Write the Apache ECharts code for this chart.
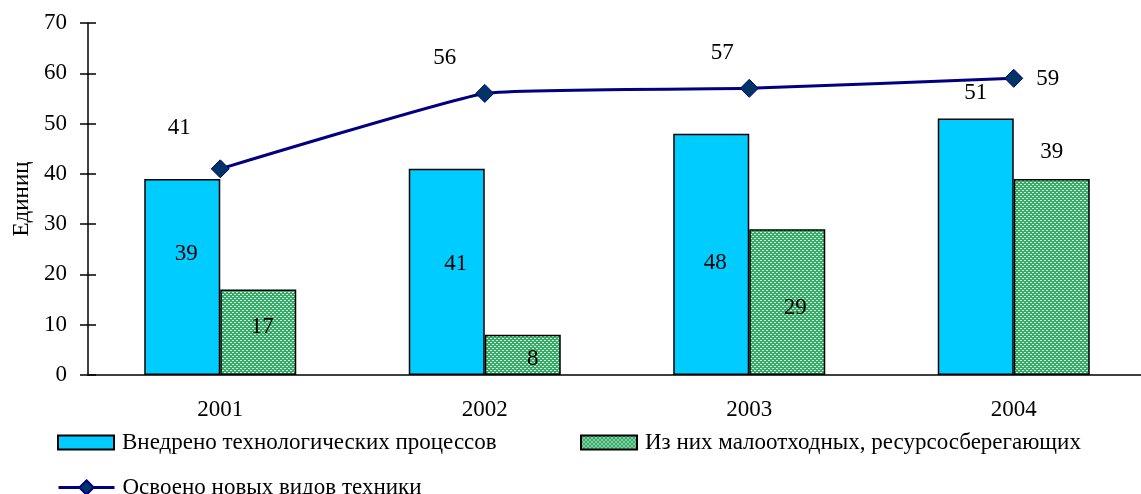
<!DOCTYPE html>
<html lang="ru">
<head>
    <meta charset="UTF-8">
    <title>Единиц</title>
    <script src="https://cdn.jsdelivr.net/npm/echarts@6/dist/echarts.min.js"></script>
</head>
<body style="margin:0">
    <div id="app" style="width:1141px;height:494px;"></div>
    <script>
        // data
        var years = ['2001', '2002', '2003', '2004'];
        var processes = [39, 41, 48, 51];      // Внедрено технологических процессов
        var lowWaste = [17, 8, 29, 39];        // Из них малоотходных, ресурсосберегающих
        var newTech = [41, 56, 57, 59];        // Освоено новых видов техники

        var font = 'Liberation Serif';
        var fs = 23;

        // green dotted fill like in excel
        function makePattern() {
            var c = document.createElement('canvas');
            c.width = 4; c.height = 4;
            var ctx = c.getContext('2d');
            ctx.fillStyle = '#37a968';
            ctx.fillRect(0, 0, 4, 4);
            ctx.fillStyle = '#d2f5dc';
            ctx.fillRect(0, 0, 2, 1);
            ctx.fillRect(2, 2, 2, 1);
            return c;
        }
        var greenFill = { image: makePattern(), repeat: 'repeat' };

        // label tweaks per point (Excel puts them a bit odd)
        var blueLbl = [
            { position: 'inside', offset: [4, -23] },
            { position: 'inside', offset: [9, -8] },
            { position: 'inside', offset: [4, 9] },
            { position: 'top', offset: [0, -9] }
        ];
        var greenLbl = [
            { position: 'inside', offset: [4, -5] },
            { position: 'inside', offset: [10, 4] },
            { position: 'inside', offset: [8, 6] },
            { position: 'top', offset: [0, -10] }
        ];
        var lineLbl = [
            { position: 'top', offset: [-41, -15] },
            { position: 'top', offset: [-40, -9] },
            { position: 'top', offset: [-27, -9] },
            { position: 'right', offset: [8, 1] }
        ];

        function withLabels(vals, lbls) {
            return vals.map(function (v, i) {
                return { value: v, label: lbls[i] };
            });
        }

        var legendText = { fontFamily: font, fontSize: fs, color: '#000', padding: [0, 0, 0, 3] };

        var myChart = echarts.init(document.getElementById('app'));
        var option = {
            animation: false,
            backgroundColor: '#fff',
            textStyle: { fontFamily: font, color: '#000' },
            grid: { left: 88, width: 1058, top: 23, height: 352, outerBoundsMode: 'none' },
            legend: [{
                left: 57, top: 431, padding: 0,
                icon: 'rect', itemWidth: 56, itemHeight: 14,
                textStyle: legendText,
                data: ['Внедрено технологических процессов']
            }, {
                left: 580, top: 431, padding: 0,
                icon: 'rect', itemWidth: 56, itemHeight: 14,
                textStyle: legendText,
                data: ['Из них малоотходных, ресурсосберегающих']
            }, {
                left: 57, top: 476, padding: 0,
                itemWidth: 56, itemHeight: 18,
                lineStyle: { width: 3, color: '#000080' },
                textStyle: legendText,
                data: ['Освоено новых видов техники']
            }],
            xAxis: [{
                type: 'category',
                data: years,
                axisLine: { lineStyle: { color: '#000', width: 1.5 } },
                axisTick: { length: 12, lineStyle: { color: '#000', width: 1.5 } },
                axisLabel: { fontFamily: font, fontSize: fs, color: '#000', margin: 23 }
            }, {
                type: 'category',
                data: years,
                position: 'bottom',
                axisLine: { show: false },
                axisTick: { inside: true, length: 8, lineStyle: { color: '#000', width: 1.5 } },
                axisLabel: { show: false }
            }],
            yAxis: [{
                type: 'value',
                min: 0, max: 70, interval: 10,
                name: 'Единиц',
                nameLocation: 'middle',
                nameGap: 55,
                nameTextStyle: { fontFamily: font, fontSize: fs, color: '#000' },
                axisLine: { show: true, lineStyle: { color: '#000', width: 1.5 } },
                axisTick: { show: true, length: 8, lineStyle: { color: '#000', width: 1.5 } },
                splitLine: { show: false },
                axisLabel: { fontFamily: font, fontSize: fs, color: '#000', margin: 21 }
            }, {
                type: 'value',
                min: 0, max: 70, interval: 10,
                position: 'left',
                axisLine: { show: false },
                axisTick: { show: true, inside: true, length: 8, lineStyle: { color: '#000', width: 1.5 } },
                splitLine: { show: false },
                axisLabel: { show: false }
            }],
            series: [{
                name: 'Внедрено технологических процессов',
                type: 'bar',
                barWidth: 76,
                barGap: '0%',
                itemStyle: { color: '#00ccff', borderColor: '#000', borderWidth: 1.5 },
                label: { show: true, fontFamily: font, fontSize: fs, color: '#000' },
                data: withLabels(processes, blueLbl)
            }, {
                name: 'Из них малоотходных, ресурсосберегающих',
                type: 'bar',
                barWidth: 76,
                barGap: '0%',
                itemStyle: { color: greenFill, borderColor: '#000', borderWidth: 1.5 },
                label: { show: true, fontFamily: font, fontSize: fs, color: '#000' },
                data: withLabels(lowWaste, greenLbl)
            }, {
                name: 'Освоено новых видов техники',
                type: 'line',
                smooth: 0.12,
                symbol: 'diamond',
                symbolSize: 18,
                lineStyle: { color: '#000080', width: 3 },
                itemStyle: { color: '#003366', borderColor: '#000080', borderWidth: 1 },
                label: { show: true, fontFamily: font, fontSize: fs, color: '#000' },
                data: withLabels(newTech, lineLbl),
                z: 5
            }]
        };
        myChart.setOption(option);
    </script>
</body>
</html>
